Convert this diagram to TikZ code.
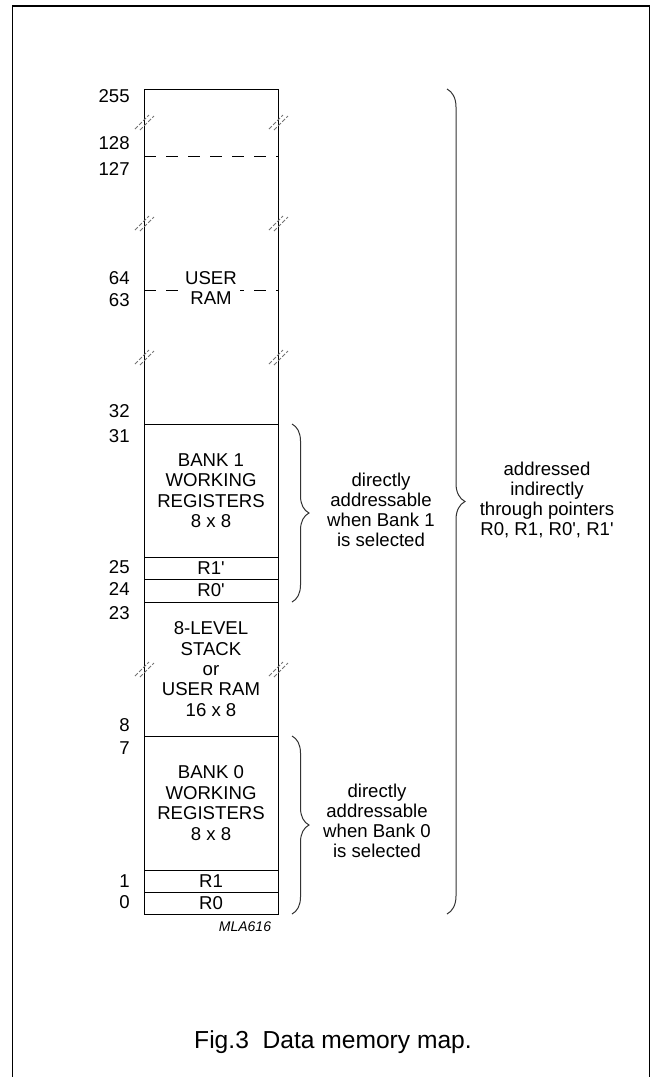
\documentclass[tikz,border=0pt]{standalone}
\usepackage{fontspec}
\setmainfont{Liberation Sans}
\usetikzlibrary{positioning}
\usetikzlibrary{decorations.pathreplacing}

\newcommand{\pq}{\textquotesingle}

\begin{document}
\begin{tikzpicture}[x=0.5pt, y=0.5pt,
    mem/.style={draw, rectangle, line width=0.5pt, minimum width=67pt, outer sep=0pt, inner sep=1pt, align=center, font=\fontsize{9.3}{10.2}\selectfont},
    addr/.style={anchor=east, inner sep=0pt, font=\fontsize{9.3}{10.2}\selectfont},
    note/.style={align=center, inner sep=0pt, font=\fontsize{9.3}{10}\selectfont},
    brc/.style={decorate, draw=black!80, line width=0.5pt, decoration={brace, amplitude=#1}},
    cut/.style={black!55, line width=0.45pt, dash pattern=on 2pt off 0.9pt},
    divider/.style={line width=0.5pt, dash pattern=on 6pt off 5pt}]

    \useasboundingbox (0,0) rectangle (655,-1077);
    % frame
    \draw[line width=0.6pt] (12.7,-1077) -- (12.7,-6) -- (649.7,-6) -- (649.7,-1077);

    % User RAM
    \node[mem, minimum height=167.5pt, anchor=north west] (userram) at (144,-89) {};
    % Bank 1
    \node[mem, minimum height=66.5pt, below=0pt of userram] (bank1) {BANK 1\\WORKING\\REGISTERS\\8 x 8};
    \node[mem, minimum height=11pt, below=0pt of bank1] (r1b) {R1\pq};
    \node[mem, minimum height=11.5pt, below=0pt of r1b] (r0b) {R0\pq};
    % Stack
    \node[mem, minimum height=67pt, below=0pt of r0b] (stack) {8-LEVEL\\STACK\\or\\USER RAM\\16 x 8};
    % Bank 0
    \node[mem, minimum height=67pt, below=0pt of stack] (bank0) {BANK 0\\WORKING\\REGISTERS\\8 x 8};
    \node[mem, minimum height=11pt, below=0pt of bank0] (r1a) {R1};
    \node[mem, minimum height=11pt, below=0pt of r1a] (r0a) {R0};

    % dashed boundaries in user RAM
    \coordinate (c128) at (144,-156);
    \coordinate (c64) at (144,-290);
    \draw[divider] (c128) -- (c128 -| userram.east);
    \draw[divider] (c64) -- (c64 -| userram.east);
    \node[fill=white, inner sep=1.5pt, align=center, font=\fontsize{9.3}{10.2}\selectfont] (uram) at (211,-288) {USER\\RAM};

    % break marks
    \foreach \y in {122,223,357,669}
        \foreach \x in {144,278} {
            \draw[cut] (\x-9,-\y-7) -- ++(14,14);
            \draw[cut] (\x-4,-\y-8) -- ++(14,14);
        }

    % addresses
    \node[addr] (a255) at (130,-96) {255};
    \node[addr] (a128) at (130,-143) {128};
    \node[addr] (a127) at (130,-169) {127};
    \node[addr] (a64) at (130,-278) {64};
    \node[addr] (a63) at (130,-300) {63};
    \node[addr] (a32) at (130,-411) {32};
    \node[addr] (a31) at (130,-436) {31};
    \node[addr] (a25) at (130,-567) {25};
    \node[addr] (a24) at (130,-589) {24};
    \node[addr] (a23) at (130,-613) {23};
    \node[addr] (a8) at (130,-725) {8};
    \node[addr] (a7) at (130,-748) {7};
    \node[addr] (a1) at (130,-881) {1};
    \node[addr] (a0) at (130,-902) {0};

    % braces
    \draw[brc=8.5pt] ([xshift=7pt]bank1.north east) -- ([xshift=7pt]r0b.south east);
    \draw[brc=8.5pt] ([xshift=7pt]bank0.north east) -- ([xshift=7pt]r0a.south east);
    \draw[brc=9pt] ([xshift=84.5pt]userram.north east) -- ([xshift=84.5pt]r0a.south east);

    \node[note] (sel1) at (381,-510) {directly\\addressable\\when Bank 1\\is selected};
    \node[note] (sel0) at (377,-821) {directly\\addressable\\when Bank 0\\is selected};
    \node[note] (indir) at (547,-500) {addressed\\indirectly\\through pointers\\R0, R1, R0\pq, R1\pq};

    % caption
    \node[inner sep=0pt, font=\fontsize{7}{8}\selectfont\itshape] (code) at (245,-927) {MLA616};
    \node[inner sep=0pt, font=\fontsize{12.3}{14}\selectfont] (cap) at (333,-1042) {Fig.3\ \ Data memory map.};

\end{tikzpicture}
\end{document}
